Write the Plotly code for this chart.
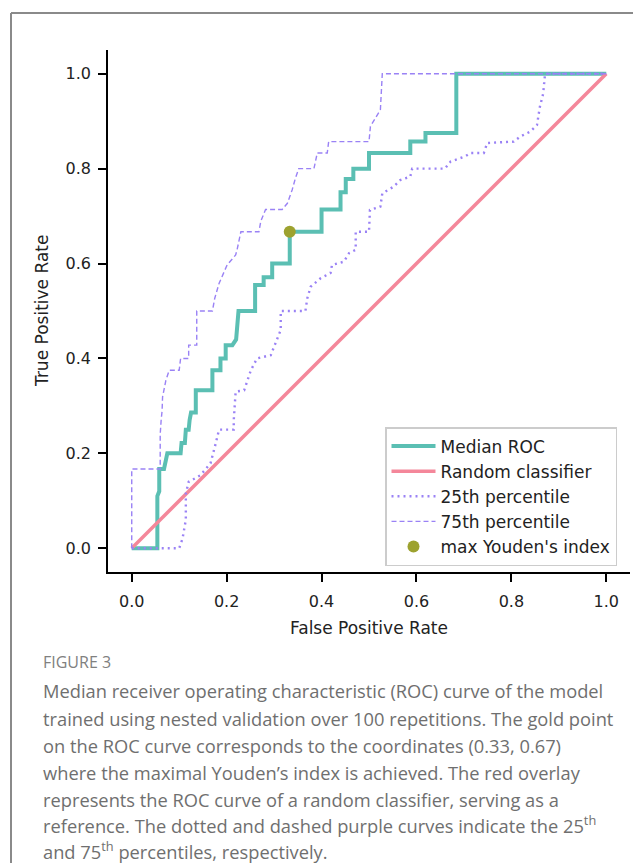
import plotly.graph_objects as go

# ---------------- data ----------------
med_fpr = [0, 0.054, 0.054, 0.058, 0.058, 0.068, 0.075, 0.103, 0.105, 0.112, 0.114, 0.12,
           0.122, 0.125, 0.135, 0.135, 0.17, 0.17, 0.187, 0.187, 0.198, 0.198, 0.212, 0.22,
           0.225, 0.26, 0.26, 0.278, 0.278, 0.296, 0.296, 0.333, 0.333, 0.4, 0.4, 0.44,
           0.44, 0.451, 0.451, 0.467, 0.467, 0.5, 0.5, 0.587, 0.587, 0.619, 0.619, 0.684,
           0.684, 1.0]
med_tpr = [0, 0, 0.11, 0.12, 0.167, 0.167, 0.2, 0.2, 0.222, 0.222, 0.25, 0.25,
           0.27, 0.286, 0.286, 0.333, 0.333, 0.375, 0.375, 0.4, 0.4, 0.428, 0.428, 0.44,
           0.5, 0.5, 0.555, 0.555, 0.571, 0.571, 0.6, 0.6, 0.667, 0.667, 0.714, 0.714,
           0.75, 0.75, 0.778, 0.778, 0.8, 0.8, 0.833, 0.833, 0.857, 0.857, 0.875, 0.875,
           1.0, 1.0]

p25_fpr = [0, 0.1, 0.107, 0.114, 0.114, 0.12, 0.145, 0.166, 0.177, 0.184, 0.215, 0.215,
           0.219, 0.237, 0.251, 0.264, 0.293, 0.3, 0.314, 0.314, 0.366, 0.37, 0.377, 0.398,
           0.419, 0.422, 0.447, 0.458, 0.472, 0.472, 0.5, 0.502, 0.524, 0.528, 0.552, 0.566,
           0.587, 0.591, 0.66, 0.672, 0.703, 0.714, 0.742, 0.749, 0.805, 0.819, 0.84, 0.854,
           0.86, 0.867, 0.87, 0.871, 1.0]
p25_tpr = [0, 0, 0.02, 0.06, 0.115, 0.14, 0.154, 0.179, 0.221, 0.25, 0.25, 0.27,
           0.33, 0.333, 0.375, 0.4, 0.407, 0.425, 0.46, 0.5, 0.5, 0.527, 0.551, 0.569,
           0.58, 0.597, 0.604, 0.622, 0.629, 0.667, 0.667, 0.713, 0.72, 0.748, 0.762, 0.776,
           0.783, 0.8, 0.8, 0.815, 0.826, 0.833, 0.833, 0.854, 0.857, 0.868, 0.878, 0.892,
           0.93, 0.958, 0.986, 1.0, 1.0]

p75_fpr = [0, 0, 0.06, 0.06, 0.062, 0.064, 0.065, 0.072, 0.079, 0.1, 0.103, 0.12,
           0.12, 0.137, 0.137, 0.17, 0.175, 0.184, 0.201, 0.219, 0.222, 0.226, 0.23, 0.268,
           0.272, 0.282, 0.317, 0.328, 0.338, 0.345, 0.352, 0.384, 0.391, 0.412, 0.415, 0.5,
           0.503, 0.524, 0.528, 1.0]
p75_tpr = [0, 0.167, 0.167, 0.24, 0.27, 0.29, 0.319, 0.354, 0.375, 0.375, 0.4, 0.4,
           0.428, 0.428, 0.5, 0.5, 0.527, 0.558, 0.597, 0.618, 0.629, 0.65, 0.667, 0.667,
           0.689, 0.714, 0.714, 0.727, 0.755, 0.78, 0.8, 0.8, 0.833, 0.833, 0.857, 0.857,
           0.889, 0.924, 1.0, 1.0]

rand_fpr = [0, 1]
rand_tpr = [0, 1]

youden_fpr = [0.333]
youden_tpr = [0.667]

tick_vals = [0.0, 0.2, 0.4, 0.6, 0.8, 1.0]
tick_text = ["0.0", "0.2", "0.4", "0.6", "0.8", "1.0"]

caption_label = "FIGURE 3"
caption_lines = [
    "Median receiver operating characteristic (ROC) curve of the model",
    "trained using nested validation over 100 repetitions. The gold point",
    "on the ROC curve corresponds to the coordinates (0.33, 0.67)",
    "where the maximal Youden\u2019s index is achieved. The red overlay",
    "represents the ROC curve of a random classifier, serving as a",
    "reference. The dotted and dashed purple curves indicate the 25<sup>th</sup>",
    "and 75<sup>th</sup> percentiles, respectively.",
]

# ---------------- layout helpers ----------------
# the page body has an 8px margin, so the figure starts at (8, 8) in the window
OFF = 8
W, H = 641 - OFF, 863 - OFF
L, R, T, B = 108, 630, 50, 572          # plot area in window pixels


def px_x(p):
    return (p - L) / (R - L)


def px_y(p):
    return (B - p) / (B - T)


TEAL = "#5bbfb3"
PINK = "#f4879a"
PURPLE = "#9a82f5"
OLIVE = "#9da22f"

fig = go.Figure()
fig.add_trace(go.Scatter(x=med_fpr, y=med_tpr, mode="lines", name="Median ROC",
                         line=dict(color=TEAL, width=4)))
fig.add_trace(go.Scatter(x=rand_fpr, y=rand_tpr, mode="lines", name="Random classifier",
                         line=dict(color=PINK, width=3.5)))
fig.add_trace(go.Scatter(x=p25_fpr, y=p25_tpr, mode="lines", name="25th percentile",
                         line=dict(color=PURPLE, width=2.4, dash="2px,4px")))
fig.add_trace(go.Scatter(x=p75_fpr, y=p75_tpr, mode="lines", name="75th percentile",
                         line=dict(color=PURPLE, width=1.4, dash="5px,3px")))
fig.add_trace(go.Scatter(x=youden_fpr, y=youden_tpr, mode="markers", name="max Youden's index",
                         marker=dict(color=OLIVE, size=12)))

axis_common = dict(
    showgrid=False, zeroline=False, showline=True, linecolor="black", linewidth=1.5,
    ticks="outside", ticklen=8, tickwidth=1.5, tickcolor="black",
    tickvals=tick_vals, ticktext=tick_text,
    tickfont=dict(family="DejaVu Sans", size=16, color="#222"),
    range=[-0.05, 1.05], mirror=False, automargin=False,
)

fig.update_layout(
    width=W, height=H, autosize=False,
    margin=dict(l=L - OFF, r=W + OFF - R, t=T - OFF, b=H + OFF - B),
    paper_bgcolor="white", plot_bgcolor="white",
    xaxis=dict(**axis_common, ticklabelstandoff=6),
    yaxis=dict(**axis_common, ticklabelstandoff=4),
    showlegend=True,
    legend=dict(x=px_x(617), y=px_y(566), xanchor="right", yanchor="bottom",
                bgcolor="white", bordercolor="#cccccc", borderwidth=1.5,
                font=dict(family="DejaVu Sans", size=17, color="#222"),
                tracegroupgap=0, itemwidth=44),
    font=dict(family="DejaVu Sans"),
)

annotations = [
    dict(text="False Positive Rate", x=px_x(369), y=px_y(628), xref="paper", yref="paper",
         showarrow=False, font=dict(family="DejaVu Sans", size=17, color="#222"),
         xanchor="center", yanchor="middle"),
    dict(text="True Positive Rate", x=px_x(42), y=px_y(311), xref="paper", yref="paper",
         showarrow=False, textangle=-90, font=dict(family="DejaVu Sans", size=17, color="#222"),
         xanchor="center", yanchor="middle"),
    dict(text=caption_label, x=px_x(41), y=px_y(662), xref="paper", yref="paper",
         showarrow=False, font=dict(family="Open Sans", size=16, color="#808080"),
         xanchor="left", yanchor="middle"),
]
line_y = [690, 718, 745, 772, 799, 825, 850]
for txt, yy in zip(caption_lines, line_y):
    annotations.append(dict(text=txt, x=px_x(41), y=px_y(yy), xref="paper", yref="paper",
                            showarrow=False, font=dict(family="Open Sans", size=18.3, color="#6f6f6f"),
                            xanchor="left", yanchor="middle", align="left"))
fig.update_layout(annotations=annotations)

# outer figure frame (left and top edges)
fig.add_shape(type="line", xref="paper", yref="paper",
              x0=px_x(11), x1=px_x(11), y0=px_y(13), y1=px_y(863 + 5),
              line=dict(color="#8a8a8a", width=2))
fig.add_shape(type="line", xref="paper", yref="paper",
              x0=px_x(11), x1=px_x(641 + 5), y0=px_y(13), y1=px_y(13),
              line=dict(color="#8a8a8a", width=2))

fig.write_html("out.html")
